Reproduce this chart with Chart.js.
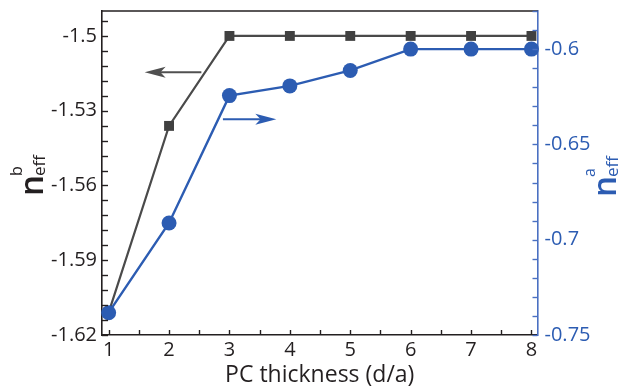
<!DOCTYPE html>
<html>
<head>
<meta charset="utf-8">
<script src="https://cdn.jsdelivr.net/npm/chart.js@4.4.1/dist/chart.umd.min.js"></script>
<style>
  html, body { margin: 0; padding: 0; background: #ffffff; }
  #c { display: block; }
</style>
</head>
<body>
<canvas id="c" width="621" height="389"></canvas>
<script>
// ---- data ----
const thickness = [1, 2, 3, 4, 5, 6, 7, 8];
const nEffB = [-1.611, -1.5361, -1.5, -1.5, -1.5, -1.5, -1.5, -1.5];      // left axis, grey squares
const nEffA = [-0.7383, -0.6912, -0.6244, -0.6193, -0.6112, -0.6, -0.6, -0.6]; // right axis, blue dots
const xTickValues = [1, 2, 3, 4, 5, 6, 7, 8];
const leftTickValues = [-1.62, -1.59, -1.56, -1.53, -1.5];
const rightTickValues = [-0.75, -0.7, -0.65, -0.6];
// arrow annotations (data coordinates): [x, value]
const greyArrow = { from: [2.535, -1.5146], to: [1.596, -1.5146] };
const blueArrow = { from: [2.892, -0.6368], to: [3.776, -0.6368] };

const GREY = '#4a4a4a';
const DARK = '#231f20';
const BLUE = '#2c5cb2';
const BLUE_AXIS = '#4a70c2';
const FONT = '"Open Sans", "DejaVu Sans", sans-serif';

function arrow(ctx, x1, y1, x2, y2, color) {
  const dir = Math.sign(x2 - x1);
  const headLen = 21, half = 5.5;
  ctx.save();
  ctx.strokeStyle = color; ctx.fillStyle = color; ctx.lineWidth = 2;
  ctx.beginPath();
  ctx.moveTo(x1, y1);
  ctx.lineTo(x2 - dir * headLen * 0.7, y2);
  ctx.stroke();
  ctx.beginPath();
  ctx.moveTo(x2, y2);
  ctx.lineTo(x2 - dir * headLen, y2 - half);
  ctx.lineTo(x2 - dir * headLen * 0.75, y2);
  ctx.lineTo(x2 - dir * headLen, y2 + half);
  ctx.closePath();
  ctx.fill();
  ctx.restore();
}

function rotTitle(ctx, bx, by, color, sup, sub) {
  ctx.save();
  ctx.translate(bx, by);
  ctx.rotate(-Math.PI / 2);
  ctx.fillStyle = color;
  ctx.textBaseline = 'alphabetic';
  ctx.textAlign = 'left';
  ctx.font = '600 33px ' + FONT;
  ctx.fillText('n', 0, 0);
  const w = ctx.measureText('n').width;
  ctx.font = '16px ' + FONT;
  ctx.fillText(sup, w - 1, -21);
  ctx.font = '17px ' + FONT;
  ctx.fillText(sub, w - 1, 2);
  ctx.restore();
}

const decor = {
  id: 'decor',
  afterDraw(chart) {
    const ctx = chart.ctx;
    const a = chart.chartArea;
    const sx = chart.scales.x, sy = chart.scales.y, sy2 = chart.scales.y2;
    ctx.save();
    // top frame line
    ctx.strokeStyle = DARK; ctx.lineWidth = 1.6;
    ctx.beginPath(); ctx.moveTo(a.left, a.top); ctx.lineTo(a.right, a.top); ctx.stroke();
    // inward tick marks
    ctx.lineWidth = 1.4;
    ctx.strokeStyle = DARK;
    for (let i = 0; i <= 21; i++) {
      const v = -1.62 + i * 0.006;
      if (v > sy.max + 1e-9) break;
      const y = Math.round(sy.getPixelForValue(v)) + 0.5;
      ctx.beginPath(); ctx.moveTo(a.left, y); ctx.lineTo(a.left + 6, y); ctx.stroke();
    }
    for (let i = 0; i <= 14; i++) {
      const v = 1 + i * 0.5;
      const x = Math.round(sx.getPixelForValue(v)) + 0.5;
      ctx.beginPath(); ctx.moveTo(x, a.bottom); ctx.lineTo(x, a.bottom - 5); ctx.stroke();
    }
    ctx.strokeStyle = BLUE_AXIS;
    for (let i = 0; i <= 17; i++) {
      const v = -0.75 + i * 0.01;
      if (v > sy2.max + 1e-9) break;
      const y = Math.round(sy2.getPixelForValue(v)) + 0.5;
      ctx.beginPath(); ctx.moveTo(a.right, y); ctx.lineTo(a.right - 5, y); ctx.stroke();
    }
    ctx.restore();
    // arrows
    arrow(ctx, sx.getPixelForValue(greyArrow.from[0]), sy.getPixelForValue(greyArrow.from[1]),
               sx.getPixelForValue(greyArrow.to[0]), sy.getPixelForValue(greyArrow.to[1]), '#505050');
    arrow(ctx, sx.getPixelForValue(blueArrow.from[0]), sy2.getPixelForValue(blueArrow.from[1]),
               sx.getPixelForValue(blueArrow.to[0]), sy2.getPixelForValue(blueArrow.to[1]), BLUE);
    // axis titles
    rotTitle(ctx, 43, 196, DARK, 'b', 'eff');
    rotTitle(ctx, 616, 197, BLUE, 'a', 'eff');
  }
};

function fitV(width) {
  return s => { s.width = width; s.paddingTop = 0; s.paddingBottom = 0; };
}

new Chart(document.getElementById('c'), {
  type: 'line',
  data: {
    datasets: [
      {
        label: 'n_eff^a',
        data: thickness.map((t, i) => ({ x: t, y: nEffA[i] })),
        yAxisID: 'y2',
        borderColor: BLUE, backgroundColor: BLUE,
        borderWidth: 2.4,
        pointStyle: 'circle', pointRadius: 7.5, pointBorderWidth: 0,
        pointBackgroundColor: BLUE,
        tension: 0, clip: false
      },
      {
        label: 'n_eff^b',
        data: thickness.map((t, i) => ({ x: t, y: nEffB[i] })),
        yAxisID: 'y',
        borderColor: GREY, backgroundColor: '#404040',
        borderWidth: 2.2,
        pointStyle: 'rect', pointRadius: 7, pointBorderWidth: 0,
        pointBackgroundColor: '#404040',
        tension: 0, clip: false
      }
    ]
  },
  options: {
    responsive: false,
    animation: false,
    events: [],
    layout: { padding: { top: 11, left: 0, right: 0, bottom: 0 } },
    plugins: { legend: { display: false }, tooltip: { enabled: false } },
    scales: {
      x: {
        type: 'linear', position: 'bottom', min: 0.89, max: 8.1,
        afterBuildTicks: s => { s.ticks = xTickValues.map(v => ({ value: v })); },
        afterFit: s => { s.height = 54; s.paddingLeft = 0; s.paddingRight = 0; },
        grid: { display: false, drawTicks: false },
        border: { display: true, color: DARK, width: 1.6 },
        ticks: { color: DARK, font: { family: FONT, size: 20 }, padding: 3, maxRotation: 0,
                 callback: v => String(v) },
        title: { display: true, text: 'PC thickness (d/a)', color: DARK,
                 font: { family: FONT, size: 23 }, padding: { top: 0, bottom: 0 } }
      },
      y: {
        type: 'linear', position: 'left', min: -1.62, max: -1.49,
        afterBuildTicks: s => { s.ticks = leftTickValues.map(v => ({ value: v })); },
        afterFit: fitV(102),
        grid: { display: false, drawTicks: false },
        border: { display: true, color: DARK, width: 1.6 },
        ticks: { color: DARK, font: { family: FONT, size: 20 }, padding: 5,
                 callback: v => String(v) }
      },
      y2: {
        type: 'linear', position: 'right', min: -0.75, max: -0.58,
        afterBuildTicks: s => { s.ticks = rightTickValues.map(v => ({ value: v })); },
        afterFit: fitV(83.5),
        grid: { display: false, drawTicks: false },
        border: { display: true, color: BLUE_AXIS, width: 1.6 },
        ticks: { color: BLUE, font: { family: FONT, size: 20 }, padding: 7,
                 callback: v => String(v) }
      }
    }
  },
  plugins: [decor]
});
</script>
</body>
</html>
